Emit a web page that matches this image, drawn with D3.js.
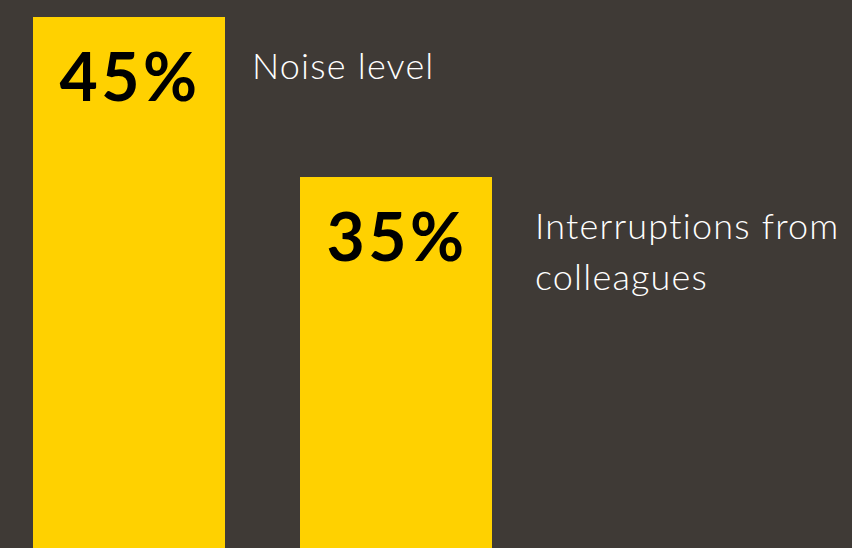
<!DOCTYPE html>
<html>
<head>
<meta charset="utf-8">
<script src="https://cdn.jsdelivr.net/npm/d3@7"></script>
<style>
  html, body { margin: 0; padding: 0; background: #3f3a36; }
  svg { display: block; }
</style>
</head>
<body>
<svg id="chart" width="852" height="548"></svg>
<script>
// Share of respondents citing each workplace distraction
const categories = ["Noise level", "Interruptions from colleagues"];
const values = [45, 35];
const labelLines = [["Noise level"], ["Interruptions from", "colleagues"]];

const W = 852, H = 548;
const svg = d3.select("#chart");

svg.append("rect").attr("width", W).attr("height", H).attr("fill", "#3f3a36");

// Baseline sits below the visible frame; bars run off the bottom edge
const y = d3.scaleLinear().domain([0, 45]).range([737, 17]);
const x = d3.scaleBand().domain(categories).range([33, 492]).paddingInner(75 / 267).paddingOuter(0);

// Horizontal gap between each bar and its name
const nameGap = [27, 43];

const g = svg.append("g");

g.selectAll("rect.bar")
  .data(categories)
  .join("rect")
  .attr("class", "bar")
  .attr("x", d => x(d))
  .attr("y", (d, i) => y(values[i]))
  .attr("width", x.bandwidth())
  .attr("height", (d, i) => y(0) - y(values[i]))
  .attr("fill", "#ffd100");

// Value inside each bar
g.selectAll("text.value")
  .data(categories)
  .join("text")
  .attr("class", "value")
  .attr("x", d => x(d) + x.bandwidth() / 2 + 1)
  .attr("y", (d, i) => y(values[i]) + 84)
  .attr("text-anchor", "middle")
  .attr("font-family", "Lato, 'Open Sans', sans-serif")
  .attr("font-weight", 700)
  .attr("font-size", 66)
  .attr("letter-spacing", 3.5)
  .attr("fill", "#000")
  .text((d, i) => values[i] + "%");

// Category name beside each bar
const names = g.selectAll("text.name")
  .data(categories)
  .join("text")
  .attr("class", "name")
  .attr("y", (d, i) => y(values[i]) + 62)
  .attr("font-family", "Lato, 'Open Sans', sans-serif")
  .attr("font-weight", 300)
  .attr("font-size", 36)
  .attr("letter-spacing", 1.2)
  .attr("fill", "#ffffff");

names.each(function(d, i) {
  const t = d3.select(this);
  labelLines[i].forEach((line, k) => {
    t.append("tspan")
      .attr("x", x(d) + x.bandwidth() + nameGap[i])
      .attr("dy", k === 0 ? 0 : 51)
      .text(line);
  });
});
</script>
</body>
</html>
